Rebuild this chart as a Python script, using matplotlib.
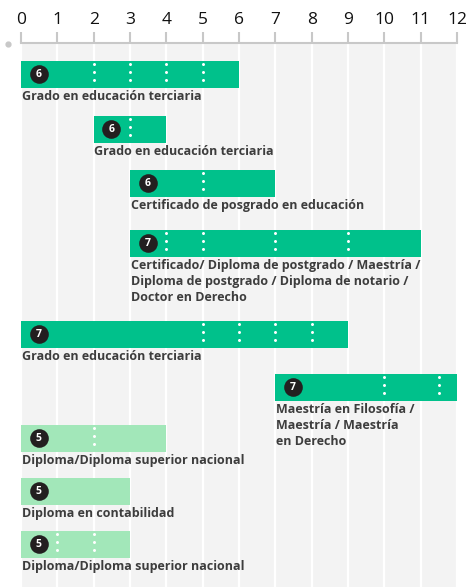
import matplotlib
matplotlib.use("Agg")
import matplotlib.pyplot as plt

# bars: start year, end year, level badge, dotted markers, caption
starts = [0, 2, 3, 3, 0, 7, 0, 0, 0]
ends = [6, 4, 7, 11, 9, 12, 4, 3, 3]
levels = [6, 6, 6, 7, 7, 7, 5, 5, 5]
dots = [[2, 3, 4, 5], [3], [5], [4, 5, 7, 9], [5, 6, 7, 8], [10, 11.5], [2], [], [1, 2]]
captions = [
    "Grado en educación terciaria",
    "Grado en educación terciaria",
    "Certificado de posgrado en educación",
    "Certificado/ Diploma de postgrado / Maestría /\nDiploma de postgrado / Diploma de notario /\nDoctor en Derecho",
    "Grado en educación terciaria",
    "Maestría en Filosofía /\nMaestría / Maestría\nen Derecho",
    "Diploma/Diploma superior nacional",
    "Diploma en contabilidad",
    "Diploma/Diploma superior nacional",
]
xticks = list(range(0, 13))

# layout: top of each row in pixel units (y axis runs in pixels)
row_top = [61, 116, 170, 230, 321, 374, 425, 478, 531]
bar_h = 26.7

plt.rcParams['font.family'] = ['Open Sans', 'DejaVu Sans']

W, H = 469, 587
fig = plt.figure(figsize=(W / 100, H / 100), dpi=100)
ax = fig.add_axes([21 / W, 0, (457 - 21) / W, 1 - 43 / H])
ax.set_facecolor('#f3f3f3')
ax.set_xlim(0, 12)
ax.set_ylim(H, 43)

for x in xticks:
    ax.axvline(x, color='white', lw=1.6, zorder=1)

colors = {5: '#a2e7b9', 6: '#00c18b', 7: '#00c18b'}
for s, e, lv, ds, cap, top in zip(starts, ends, levels, dots, captions, row_top):
    yc = top + bar_h / 2
    ax.barh(yc, e - s, left=s, height=bar_h, color=colors[lv], zorder=2)
    if ds:
        ax.vlines(ds, top + 3, top + bar_h - 2, colors='white', lw=2.2,
                  linestyles=[(0, (0.01, 2.6))], capstyle='round', zorder=3)
    ax.scatter([s + 0.49], [yc], s=180, color='#231f20', zorder=4, lw=0)
    ax.text(s + 0.49, yc + 0.3, str(lv), color='white', fontsize=7.5,
            fontweight='bold', ha='center', va='center', zorder=5)
    ax.text(s + 0.02, top + bar_h + 2.5, cap, color='#3d3d3d', fontsize=9,
            fontweight='bold', ha='left', va='top', linespacing=1.3, zorder=5)

ax.xaxis.tick_top()
ax.set_xticks(xticks)
ax.set_xticklabels([str(t) for t in xticks], fontsize=12.5, color='#111111',
                   fontweight='medium')
ax.tick_params(axis='x', direction='out', length=8, width=1.5, color='#c8c8c8', pad=2.5)
ax.set_yticks([])
for side in ['left', 'right', 'bottom']:
    ax.spines[side].set_visible(False)
ax.spines['top'].set_color('#c8c8c8')
ax.spines['top'].set_linewidth(1.5)

# small grey dot left of the axis
ax.plot([-0.36], [44], 'o', color='#c8c8c8', ms=3.5, clip_on=False)

fig.savefig('out.png', dpi=100)
